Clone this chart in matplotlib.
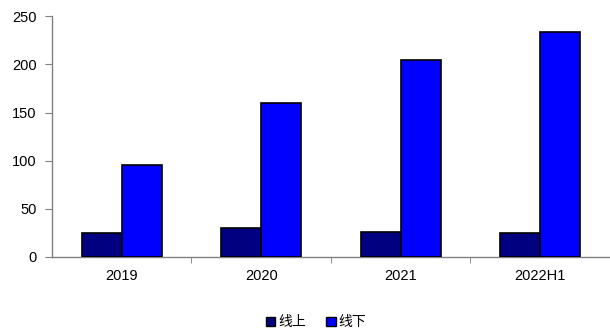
import numpy as np
import matplotlib.pyplot as plt
from matplotlib.patches import Patch

years = ["2019", "2020", "2021", "2022H1"]
online = [25, 30, 26, 25]
offline = [95, 160, 205, 234]
labels = ["线上", "线下"]

plt.rcParams['font.family'] = ['Liberation Sans', 'Noto Sans CJK SC', 'DejaVu Sans']

fig = plt.figure(figsize=(6.1, 3.34), dpi=100)
ax = fig.add_axes([0.0852, 0.2314, 0.9148, 0.7196])

x = np.arange(len(years))
w = 0.286
ax.bar(x - w / 2, online, w, color='#000080', edgecolor='black', linewidth=1.2, zorder=3)
ax.bar(x + w / 2, offline, w, color='#0000FF', edgecolor='black', linewidth=1.2, zorder=3)

ax.set_xlim(-0.5, len(years) - 0.5)
ax.set_ylim(0, 250)
ax.set_yticks(range(0, 251, 50))

# category labels centred, tick marks on the boundaries
ax.set_xticks(x)
ax.set_xticklabels(years, fontsize=10.5)
ax.set_xticks(np.arange(len(years)) + 0.5, minor=True)
ax.tick_params(axis='x', which='major', length=0, pad=9)
ax.tick_params(axis='x', which='minor', length=4, color='#808080', direction='out')
ax.tick_params(axis='y', length=5, color='#808080', labelsize=10.5, pad=6)

for s in ['top', 'right']:
    ax.spines[s].set_visible(False)
for s in ['left', 'bottom']:
    ax.spines[s].set_color('#808080')
    ax.spines[s].set_linewidth(1.0)

handles = [Patch(facecolor='#000080', edgecolor='black'),
           Patch(facecolor='#0000FF', edgecolor='black')]
fig.legend(handles, labels, loc='center', bbox_to_anchor=(0.518, 0.035), ncol=2,
           frameon=False, handlelength=0.7, handleheight=0.7, handletextpad=0.2,
           columnspacing=1.45, prop={'family': ['Noto Sans CJK SC'], 'size': 10})

fig.savefig('out.png', dpi=100)
